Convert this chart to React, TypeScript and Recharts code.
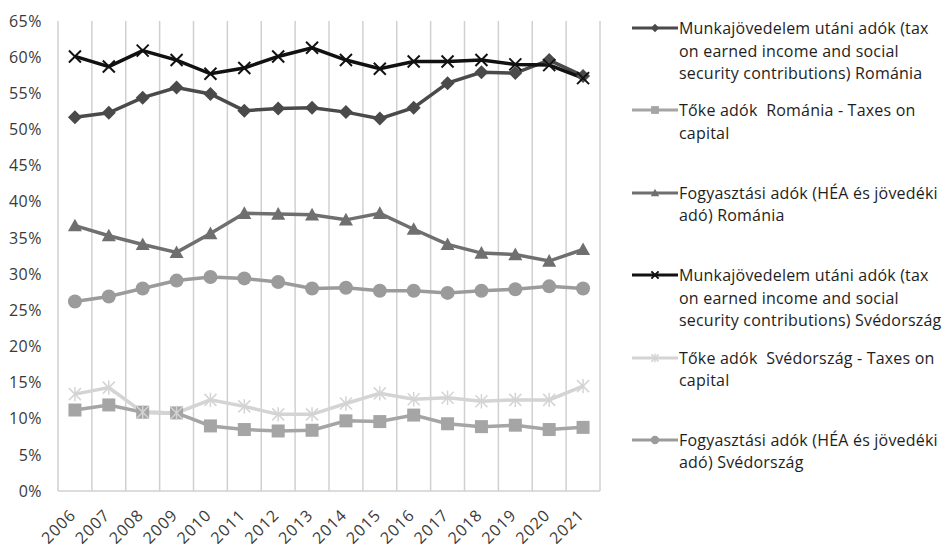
import React from 'react';
import { LineChart, Line, XAxis, YAxis, CartesianGrid } from 'recharts';

const years = ['2006', '2007', '2008', '2009', '2010', '2011', '2012', '2013', '2014', '2015', '2016', '2017', '2018', '2019', '2020', '2021'];

// tax shares, % of total tax revenue
const munkaRo = [51.7, 52.3, 54.4, 55.8, 54.9, 52.6, 52.9, 53.0, 52.4, 51.5, 53.0, 56.4, 57.9, 57.8, 59.6, 57.4];
const tokeRo = [11.2, 11.9, 10.9, 10.8, 9.0, 8.5, 8.3, 8.4, 9.7, 9.6, 10.5, 9.3, 8.9, 9.1, 8.5, 8.8];
const fogyRo = [36.7, 35.3, 34.1, 33.0, 35.6, 38.4, 38.3, 38.2, 37.5, 38.4, 36.2, 34.1, 32.9, 32.7, 31.8, 33.4];
const munkaSe = [60.1, 58.7, 60.9, 59.6, 57.7, 58.5, 60.1, 61.3, 59.6, 58.4, 59.4, 59.4, 59.6, 59.0, 58.9, 57.1];
const tokeSe = [13.4, 14.3, 10.9, 10.8, 12.6, 11.7, 10.6, 10.6, 12.1, 13.5, 12.7, 12.9, 12.4, 12.6, 12.6, 14.5];
const fogySe = [26.2, 26.9, 28.0, 29.1, 29.6, 29.4, 28.9, 28.0, 28.1, 27.7, 27.7, 27.4, 27.7, 27.9, 28.3, 28.0];

const yTicks = [0, 5, 10, 15, 20, 25, 30, 35, 40, 45, 50, 55, 60, 65];

const data = years.map((year, i) => ({
  year,
  munkaRo: munkaRo[i],
  tokeRo: tokeRo[i],
  fogyRo: fogyRo[i],
  munkaSe: munkaSe[i],
  tokeSe: tokeSe[i],
  fogySe: fogySe[i],
}));

type Shape = 'diamond' | 'square' | 'triangle' | 'cross' | 'star' | 'circle';

const series: { key: string; name: string; color: string; shape: Shape }[] = [
  { key: 'munkaRo', name: 'Munkajövedelem utáni adók (tax\non earned income and social\nsecurity contributions) Románia', color: '#4a4a4a', shape: 'diamond' },
  { key: 'tokeRo', name: 'Tőke adók  Románia - Taxes on\ncapital', color: '#a5a5a5', shape: 'square' },
  { key: 'fogyRo', name: 'Fogyasztási adók (HÉA és jövedéki\nadó) Románia', color: '#6f6f6f', shape: 'triangle' },
  { key: 'munkaSe', name: 'Munkajövedelem utáni adók (tax\non earned income and social\nsecurity contributions) Svédország', color: '#111111', shape: 'cross' },
  { key: 'tokeSe', name: 'Tőke adók  Svédország - Taxes on\ncapital', color: '#d4d4d4', shape: 'star' },
  { key: 'fogySe', name: 'Fogyasztási adók (HÉA és jövedéki\nadó) Svédország', color: '#9b9b9b', shape: 'circle' },
];

const FONT = '"Open Sans", "Noto Sans", sans-serif';
const GRID = '#d0d0d0';

function Marker({ shape, cx, cy, color, s = 1 }: { shape: Shape; cx: number; cy: number; color: string; s?: number }) {
  switch (shape) {
    case 'diamond': {
      const r = 7 * s;
      return <polygon points={`${cx},${cy - r} ${cx + r},${cy} ${cx},${cy + r} ${cx - r},${cy}`} fill={color} />;
    }
    case 'square': {
      const h = 6.5 * s;
      return <rect x={cx - h} y={cy - h} width={2 * h} height={2 * h} fill={color} />;
    }
    case 'triangle': {
      const h = 7 * s;
      return <polygon points={`${cx},${cy - h} ${cx + h},${cy + h * 0.8} ${cx - h},${cy + h * 0.8}`} fill={color} />;
    }
    case 'cross': {
      const h = 6 * s;
      return (
        <g stroke={color} strokeWidth={2}>
          <line x1={cx - h} y1={cy - h} x2={cx + h} y2={cy + h} />
          <line x1={cx - h} y1={cy + h} x2={cx + h} y2={cy - h} />
        </g>
      );
    }
    case 'star': {
      const h = 6 * s;
      return (
        <g stroke={color} strokeWidth={1.5}>
          <line x1={cx - h} y1={cy - h} x2={cx + h} y2={cy + h} />
          <line x1={cx - h} y1={cy + h} x2={cx + h} y2={cy - h} />
          <line x1={cx} y1={cy - h * 1.2} x2={cx} y2={cy + h * 1.2} />
        </g>
      );
    }
    default:
      return <circle cx={cx} cy={cy} r={7 * s} fill={color} />;
  }
}

const YearTick = ({ x, y, payload }: any) => (
  <g transform={`translate(${x + 2},${y + 17}) rotate(-45)`}>
    <text x={0} y={0} textAnchor="end" fill="#3a3a3a" fontSize={16} letterSpacing={1} fontFamily={FONT}>
      {payload.value}
    </text>
  </g>
);

// gridlines sit on the category boundaries, not on the ticks
const boundaryLines = ({ offset }: any) =>
  Array.from({ length: years.length + 1 }, (_, i) => offset.left + (i * offset.width) / years.length);

const Legend = () => (
  <div style={{ position: 'absolute', left: 632, top: 17 }}>
    {series.map((s) => (
      <div key={s.key} style={{ position: 'relative', height: 82.4 }}>
        <svg width={46} height={14} style={{ position: 'absolute', left: 0, top: 4 }}>
          <line x1={0} y1={7} x2={46} y2={7} stroke={s.color} strokeWidth={3} />
          <Marker shape={s.shape} cx={23} cy={7} color={s.color} s={0.6} />
        </svg>
        <div
          style={{
            position: 'absolute',
            left: 47,
            top: 0,
            whiteSpace: 'pre',
            fontFamily: FONT,
            fontSize: 16,
            letterSpacing: 0.2,
            lineHeight: '22.5px',
            color: '#1e1e1e',
          }}
        >
          {s.name}
        </div>
      </div>
    ))}
  </div>
);

export default function App() {
  return (
    <div style={{ position: 'absolute', left: 0, top: 0, width: 948, height: 548, background: '#fff' }}>
      <LineChart width={610} height={548} data={data} margin={{ top: 21, right: 10, left: 8, bottom: 7 }}>
        <CartesianGrid horizontal={false} stroke={GRID} strokeWidth={1.5} verticalCoordinatesGenerator={boundaryLines} />
        <XAxis
          dataKey="year"
          scale="band"
          height={50}
          interval={0}
          tickLine={false}
          axisLine={{ stroke: GRID, strokeWidth: 1.5 }}
          tick={<YearTick />}
        />
        <YAxis
          width={50}
          domain={[0, 65]}
          ticks={yTicks}
          interval={0}
          axisLine={false}
          tickLine={false}
          tickMargin={10}
          tickFormatter={(v: number) => `${v}%`}
          tick={{ fill: '#3a3a3a', fontSize: 16, letterSpacing: 0.5, fontFamily: FONT }}
        />
        {series.map((s) => (
          <Line
            key={s.key}
            dataKey={s.key}
            name={s.name}
            stroke={s.color}
            strokeWidth={3.5}
            isAnimationActive={false}
            dot={(p: any) => <Marker key={`${s.key}-${p.index}`} shape={s.shape} cx={p.cx} cy={p.cy} color={s.color} />}
            activeDot={false}
          />
        ))}
      </LineChart>
      <Legend />
    </div>
  );
}
